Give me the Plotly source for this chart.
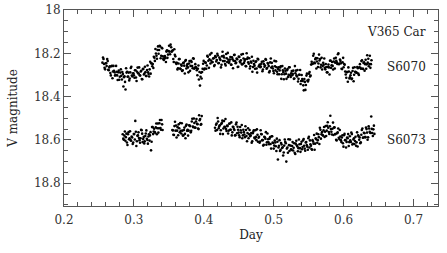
import plotly.graph_objects as go

# V365 Car light curves in two fields
day_s6070 = [
    0.2550, 0.2565, 0.2580, 0.2595, 0.2610, 0.2625, 0.2640, 0.2655, 0.2670, 0.2685,
    0.2700, 0.2715, 0.2730, 0.2745, 0.2760, 0.2775, 0.2790, 0.2805, 0.2820, 0.2835,
    0.2850, 0.2865, 0.2880, 0.2895, 0.2910, 0.2925, 0.2940, 0.2955, 0.2970, 0.2985,
    0.3000, 0.3015, 0.3030, 0.3045, 0.3060, 0.3075, 0.3090, 0.3105, 0.3120, 0.3135,
    0.3150, 0.3165, 0.3180, 0.3195, 0.3210, 0.3225, 0.3240, 0.3255, 0.3270, 0.3285,
    0.3300, 0.3315, 0.3330, 0.3345, 0.3360, 0.3375, 0.3390, 0.3405, 0.3420, 0.3435,
    0.3450, 0.3465, 0.3480, 0.3495, 0.3510, 0.3525, 0.3540, 0.3555, 0.3570, 0.3585,
    0.3600, 0.3615, 0.3630, 0.3645, 0.3660, 0.3675, 0.3690, 0.3705, 0.3720, 0.3735,
    0.3750, 0.3765, 0.3780, 0.3795, 0.3810, 0.3825, 0.3840, 0.3855, 0.3870, 0.3885,
    0.3900, 0.3915, 0.3930, 0.3945, 0.3960, 0.3975, 0.3990, 0.4005, 0.4020, 0.4035,
    0.4050, 0.4065, 0.4080, 0.4095, 0.4110, 0.4125, 0.4140, 0.4155, 0.4170, 0.4185,
    0.4200, 0.4215, 0.4230, 0.4245, 0.4260, 0.4275, 0.4290, 0.4305, 0.4320, 0.4335,
    0.4350, 0.4365, 0.4380, 0.4395, 0.4410, 0.4425, 0.4440, 0.4455, 0.4470, 0.4485,
    0.4500, 0.4515, 0.4530, 0.4545, 0.4560, 0.4575, 0.4590, 0.4605, 0.4620, 0.4635,
    0.4650, 0.4665, 0.4680, 0.4695, 0.4710, 0.4725, 0.4740, 0.4755, 0.4770, 0.4785,
    0.4800, 0.4815, 0.4830, 0.4845, 0.4860, 0.4875, 0.4890, 0.4905, 0.4920, 0.4935,
    0.4950, 0.4965, 0.4980, 0.4995, 0.5010, 0.5025, 0.5040, 0.5055, 0.5070, 0.5085,
    0.5100, 0.5115, 0.5130, 0.5145, 0.5160, 0.5175, 0.5190, 0.5205, 0.5220, 0.5235,
    0.5250, 0.5265, 0.5280, 0.5295, 0.5310, 0.5325, 0.5340, 0.5355, 0.5370, 0.5385,
    0.5400, 0.5415, 0.5430, 0.5445, 0.5460, 0.5475, 0.5490, 0.5505, 0.5520, 0.5535,
    0.5550, 0.5565, 0.5580, 0.5595, 0.5610, 0.5625, 0.5640, 0.5655, 0.5670, 0.5685,
    0.5700, 0.5715, 0.5730, 0.5745, 0.5760, 0.5775, 0.5790, 0.5805, 0.5820, 0.5835,
    0.5850, 0.5865, 0.5880, 0.5895, 0.5910, 0.5925, 0.5940, 0.5955, 0.5970, 0.5985,
    0.6000, 0.6015, 0.6030, 0.6045, 0.6060, 0.6075, 0.6090, 0.6105, 0.6120, 0.6135,
    0.6150, 0.6165, 0.6180, 0.6195, 0.6210, 0.6225, 0.6240, 0.6255, 0.6270, 0.6285,
    0.6300, 0.6315, 0.6330, 0.6345, 0.6360, 0.6375, 0.6390,
    0.2558, 0.2573, 0.2588, 0.2603, 0.2618, 0.2633, 0.2648, 0.2663, 0.2678, 0.2693,
    0.2708, 0.2723, 0.2738, 0.2753, 0.2768, 0.2783, 0.2798, 0.2813, 0.2828, 0.2843,
    0.2858, 0.2873, 0.2888, 0.2903, 0.2918, 0.2933, 0.2948, 0.2963, 0.2978, 0.2993,
    0.3008, 0.3023, 0.3038, 0.3053, 0.3068, 0.3083, 0.3098, 0.3113, 0.3128, 0.3143,
    0.3158, 0.3173, 0.3188, 0.3203, 0.3218, 0.3233, 0.3248, 0.3263, 0.3278, 0.3293,
    0.3308, 0.3323, 0.3338, 0.3353, 0.3368, 0.3383, 0.3398, 0.3413, 0.3428, 0.3443,
    0.3458, 0.3473, 0.3488, 0.3503, 0.3518, 0.3533, 0.3548, 0.3563, 0.3578, 0.3593,
    0.3608, 0.3623, 0.3638, 0.3653, 0.3668, 0.3683, 0.3698, 0.3713, 0.3728, 0.3743,
    0.3758, 0.3773, 0.3788, 0.3803, 0.3818, 0.3833, 0.3848, 0.3863, 0.3878, 0.3893,
    0.3908, 0.3923, 0.3938, 0.3953, 0.3968, 0.3983, 0.3998, 0.4013, 0.4028, 0.4043,
    0.4058, 0.4073, 0.4088, 0.4103, 0.4118, 0.4133, 0.4148, 0.4163, 0.4178, 0.4193,
    0.4208, 0.4223, 0.4238, 0.4253, 0.4268, 0.4283, 0.4298, 0.4313, 0.4328, 0.4343,
    0.4358, 0.4373, 0.4388, 0.4403, 0.4418, 0.4433, 0.4448, 0.4463, 0.4478, 0.4493,
    0.4508, 0.4523, 0.4538, 0.4553, 0.4568, 0.4583, 0.4598, 0.4613, 0.4628, 0.4643,
    0.4658, 0.4673, 0.4688, 0.4703, 0.4718, 0.4733, 0.4748, 0.4763, 0.4778, 0.4793,
    0.4808, 0.4823, 0.4838, 0.4853, 0.4868, 0.4883, 0.4898, 0.4913, 0.4928, 0.4943,
    0.4958, 0.4973, 0.4988, 0.5003, 0.5018, 0.5033, 0.5048, 0.5063, 0.5078, 0.5093,
    0.5108, 0.5123, 0.5138, 0.5153, 0.5168, 0.5183, 0.5198, 0.5213, 0.5228, 0.5243,
    0.5258, 0.5273, 0.5288, 0.5303, 0.5318, 0.5333, 0.5348, 0.5363, 0.5378, 0.5393,
    0.5408, 0.5423, 0.5438, 0.5453, 0.5468, 0.5483, 0.5498, 0.5513, 0.5528, 0.5543,
    0.5558, 0.5573, 0.5588, 0.5603, 0.5618, 0.5633, 0.5648, 0.5663, 0.5678, 0.5693,
    0.5708, 0.5723, 0.5738, 0.5753, 0.5768, 0.5783, 0.5798, 0.5813, 0.5828, 0.5843,
    0.5858, 0.5873, 0.5888, 0.5903, 0.5918, 0.5933, 0.5948, 0.5963, 0.5978, 0.5993,
    0.6008, 0.6023, 0.6038, 0.6053, 0.6068, 0.6083, 0.6098, 0.6113, 0.6128, 0.6143,
    0.6158, 0.6173, 0.6188, 0.6203, 0.6218, 0.6233, 0.6248, 0.6263, 0.6278, 0.6293,
    0.6308, 0.6323, 0.6338, 0.6353, 0.6368, 0.6383, 0.6398,
]
mag_s6070 = [
    18.243, 18.226, 18.267, 18.246, 18.259, 18.236, 18.278, 18.260, 18.302, 18.258,
    18.284, 18.281, 18.303, 18.258, 18.302, 18.288, 18.322, 18.289, 18.304, 18.286,
    18.353, 18.306, 18.367, 18.289, 18.308, 18.289, 18.316, 18.268, 18.303, 18.293,
    18.301, 18.278, 18.312, 18.285, 18.292, 18.265, 18.303, 18.281, 18.320, 18.272,
    18.294, 18.287, 18.305, 18.256, 18.296, 18.274, 18.294, 18.247, 18.249, 18.216,
    18.235, 18.201, 18.225, 18.168, 18.185, 18.168, 18.211, 18.177, 18.226, 18.222,
    18.223, 18.192, 18.221, 18.190, 18.192, 18.160, 18.193, 18.186, 18.240, 18.207,
    18.244, 18.244, 18.269, 18.227, 18.270, 18.252, 18.282, 18.245, 18.257, 18.235,
    18.270, 18.250, 18.288, 18.236, 18.258, 18.240, 18.269, 18.225, 18.267, 18.263,
    18.278, 18.271, 18.321, 18.349, 18.290, 18.286, 18.248, 18.275, 18.242, 18.271,
    18.212, 18.234, 18.228, 18.247, 18.199, 18.240, 18.223, 18.254, 18.218, 18.231,
    18.210, 18.245, 18.226, 18.265, 18.214, 18.236, 18.219, 18.249, 18.203, 18.240,
    18.230, 18.239, 18.217, 18.253, 18.227, 18.234, 18.207, 18.246, 18.224, 18.263,
    18.215, 18.238, 18.232, 18.251, 18.203, 18.245, 18.228, 18.260, 18.226, 18.241,
    18.223, 18.260, 18.243, 18.285, 18.234, 18.257, 18.240, 18.270, 18.225, 18.261,
    18.252, 18.261, 18.239, 18.275, 18.249, 18.256, 18.230, 18.268, 18.248, 18.288,
    18.242, 18.266, 18.261, 18.282, 18.235, 18.279, 18.264, 18.297, 18.264, 18.279,
    18.260, 18.297, 18.279, 18.320, 18.270, 18.294, 18.278, 18.309, 18.264, 18.301,
    18.292, 18.301, 18.280, 18.316, 18.292, 18.302, 18.277, 18.318, 18.299, 18.342,
    18.300, 18.328, 18.371, 18.332, 18.346, 18.294, 18.330, 18.294, 18.307, 18.252,
    18.249, 18.211, 18.243, 18.227, 18.270, 18.223, 18.247, 18.233, 18.265, 18.221,
    18.259, 18.253, 18.267, 18.249, 18.288, 18.263, 18.265, 18.234, 18.267, 18.240,
    18.275, 18.224, 18.243, 18.234, 18.249, 18.200, 18.247, 18.235, 18.271, 18.241,
    18.264, 18.253, 18.298, 18.287, 18.331, 18.284, 18.311, 18.290, 18.316, 18.267,
    18.299, 18.285, 18.289, 18.263, 18.294, 18.264, 18.267, 18.236, 18.271, 18.245,
    18.280, 18.230, 18.251, 18.243, 18.260, 18.211, 18.250,
    18.219, 18.249, 18.274, 18.246, 18.226, 18.276, 18.265, 18.291, 18.260, 18.315,
    18.258, 18.288, 18.299, 18.285, 18.323, 18.280, 18.308, 18.274, 18.321, 18.296,
    18.310, 18.332, 18.269, 18.285, 18.307, 18.325, 18.288, 18.262, 18.307, 18.292,
    18.313, 18.278, 18.328, 18.266, 18.293, 18.301, 18.284, 18.319, 18.273, 18.298,
    18.262, 18.305, 18.277, 18.288, 18.307, 18.239, 18.246, 18.260, 18.268, 18.220,
    18.180, 18.211, 18.185, 18.202, 18.165, 18.223, 18.174, 18.214, 18.231, 18.213,
    18.240, 18.186, 18.206, 18.165, 18.204, 18.172, 18.189, 18.226, 18.181, 18.214,
    18.249, 18.275, 18.247, 18.226, 18.273, 18.257, 18.278, 18.243, 18.293, 18.231,
    18.258, 18.265, 18.247, 18.281, 18.235, 18.259, 18.223, 18.271, 18.250, 18.268,
    18.301, 18.256, 18.286, 18.308, 18.316, 18.271, 18.235, 18.270, 18.244, 18.256,
    18.216, 18.267, 18.206, 18.233, 18.241, 18.224, 18.259, 18.213, 18.238, 18.202,
    18.246, 18.219, 18.231, 18.253, 18.193, 18.211, 18.236, 18.256, 18.223, 18.198,
    18.244, 18.229, 18.252, 18.218, 18.269, 18.208, 18.236, 18.244, 18.227, 18.262,
    18.217, 18.242, 18.206, 18.250, 18.224, 18.236, 18.259, 18.200, 18.220, 18.248,
    18.270, 18.238, 18.216, 18.263, 18.249, 18.271, 18.237, 18.289, 18.228, 18.256,
    18.264, 18.248, 18.283, 18.237, 18.262, 18.227, 18.271, 18.245, 18.259, 18.282,
    18.224, 18.244, 18.270, 18.292, 18.260, 18.237, 18.285, 18.273, 18.297, 18.265,
    18.318, 18.259, 18.287, 18.297, 18.281, 18.318, 18.273, 18.299, 18.264, 18.309,
    18.282, 18.295, 18.318, 18.259, 18.280, 18.307, 18.330, 18.299, 18.277, 18.328,
    18.319, 18.348, 18.319, 18.369, 18.303, 18.326, 18.322, 18.286, 18.303, 18.239,
    18.248, 18.202, 18.246, 18.222, 18.238, 18.263, 18.206, 18.226, 18.253, 18.275,
    18.244, 18.224, 18.274, 18.263, 18.288, 18.252, 18.298, 18.233, 18.255, 18.258,
    18.238, 18.270, 18.221, 18.242, 18.204, 18.250, 18.229, 18.246, 18.273, 18.221,
    18.249, 18.284, 18.313, 18.286, 18.265, 18.316, 18.301, 18.319, 18.282, 18.329,
    18.264, 18.287, 18.290, 18.269, 18.300, 18.250, 18.271, 18.232, 18.272, 18.241,
    18.250, 18.271, 18.209, 18.225, 18.249, 18.267, 18.232,
]

day_s6073 = [
    0.2840, 0.2855, 0.2870, 0.2885, 0.2900, 0.2915, 0.2930, 0.2945, 0.2960, 0.2975,
    0.2990, 0.3005, 0.3020, 0.3035, 0.3050, 0.3065, 0.3080, 0.3095, 0.3110, 0.3125,
    0.3140, 0.3155, 0.3170, 0.3185, 0.3200, 0.3215, 0.3230, 0.3245, 0.3260, 0.3275,
    0.3290, 0.3305, 0.3320, 0.3335, 0.3350, 0.3365, 0.3380, 0.3395, 0.3410,
    0.3550, 0.3565, 0.3580, 0.3595, 0.3610, 0.3625, 0.3640, 0.3655, 0.3670, 0.3685,
    0.3700, 0.3715, 0.3730, 0.3745, 0.3760, 0.3775, 0.3790, 0.3805, 0.3820, 0.3835,
    0.3850, 0.3865, 0.3880, 0.3895, 0.3910, 0.3925, 0.3940, 0.3955, 0.3970,
    0.4160, 0.4175, 0.4190, 0.4205, 0.4220, 0.4235, 0.4250, 0.4265, 0.4280, 0.4295,
    0.4310, 0.4325, 0.4340, 0.4355, 0.4370, 0.4385, 0.4400, 0.4415, 0.4430, 0.4445,
    0.4460, 0.4475, 0.4490, 0.4505, 0.4520, 0.4535, 0.4550, 0.4565, 0.4580, 0.4595,
    0.4610, 0.4625, 0.4640, 0.4655, 0.4670, 0.4685, 0.4700, 0.4715, 0.4730, 0.4745,
    0.4760, 0.4775, 0.4790, 0.4805, 0.4820, 0.4835, 0.4850, 0.4865, 0.4880, 0.4895,
    0.4910, 0.4925, 0.4940, 0.4955, 0.4970, 0.4985, 0.5000, 0.5015, 0.5030, 0.5045,
    0.5060, 0.5075, 0.5090, 0.5105, 0.5120, 0.5135, 0.5150, 0.5165, 0.5180, 0.5195,
    0.5210, 0.5225, 0.5240, 0.5255, 0.5270, 0.5285, 0.5300, 0.5315, 0.5330, 0.5345,
    0.5360, 0.5375, 0.5390, 0.5405, 0.5420, 0.5435, 0.5450, 0.5465, 0.5480, 0.5495,
    0.5510, 0.5525, 0.5540, 0.5555, 0.5570, 0.5585, 0.5600, 0.5615, 0.5630, 0.5645,
    0.5660, 0.5675, 0.5690, 0.5705, 0.5720, 0.5735, 0.5750, 0.5765, 0.5780, 0.5795,
    0.5810, 0.5825, 0.5840, 0.5855, 0.5870, 0.5885, 0.5900, 0.5915, 0.5930, 0.5945,
    0.5960, 0.5975, 0.5990, 0.6005, 0.6020, 0.6035, 0.6050, 0.6065, 0.6080, 0.6095,
    0.6110, 0.6125, 0.6140, 0.6155, 0.6170, 0.6185, 0.6200, 0.6215, 0.6230, 0.6245,
    0.6260, 0.6275, 0.6290, 0.6305, 0.6320, 0.6335, 0.6350, 0.6365, 0.6380, 0.6395,
    0.6410, 0.6425, 0.6440,
    0.2848, 0.2863, 0.2878, 0.2893, 0.2908, 0.2923, 0.2938, 0.2953, 0.2968, 0.2983,
    0.2998, 0.3013, 0.3028, 0.3043, 0.3058, 0.3073, 0.3088, 0.3103, 0.3118, 0.3133,
    0.3148, 0.3163, 0.3178, 0.3193, 0.3208, 0.3223, 0.3238, 0.3253, 0.3268, 0.3283,
    0.3298, 0.3313, 0.3328, 0.3343, 0.3358, 0.3373, 0.3388, 0.3403,
    0.3558, 0.3573, 0.3588, 0.3603, 0.3618, 0.3633, 0.3648, 0.3663, 0.3678, 0.3693,
    0.3708, 0.3723, 0.3738, 0.3753, 0.3768, 0.3783, 0.3798, 0.3813, 0.3828, 0.3843,
    0.3858, 0.3873, 0.3888, 0.3903, 0.3918, 0.3933, 0.3948, 0.3963,
    0.4168, 0.4183, 0.4198, 0.4213, 0.4228, 0.4243, 0.4258, 0.4273, 0.4288, 0.4303,
    0.4318, 0.4333, 0.4348, 0.4363, 0.4378, 0.4393, 0.4408, 0.4423, 0.4438, 0.4453,
    0.4468, 0.4483, 0.4498, 0.4513, 0.4528, 0.4543, 0.4558, 0.4573, 0.4588, 0.4603,
    0.4618, 0.4633, 0.4648, 0.4663, 0.4678, 0.4693, 0.4708, 0.4723, 0.4738, 0.4753,
    0.4768, 0.4783, 0.4798, 0.4813, 0.4828, 0.4843, 0.4858, 0.4873, 0.4888, 0.4903,
    0.4918, 0.4933, 0.4948, 0.4963, 0.4978, 0.4993, 0.5008, 0.5023, 0.5038, 0.5053,
    0.5068, 0.5083, 0.5098, 0.5113, 0.5128, 0.5143, 0.5158, 0.5173, 0.5188, 0.5203,
    0.5218, 0.5233, 0.5248, 0.5263, 0.5278, 0.5293, 0.5308, 0.5323, 0.5338, 0.5353,
    0.5368, 0.5383, 0.5398, 0.5413, 0.5428, 0.5443, 0.5458, 0.5473, 0.5488, 0.5503,
    0.5518, 0.5533, 0.5548, 0.5563, 0.5578, 0.5593, 0.5608, 0.5623, 0.5638, 0.5653,
    0.5668, 0.5683, 0.5698, 0.5713, 0.5728, 0.5743, 0.5758, 0.5773, 0.5788, 0.5803,
    0.5818, 0.5833, 0.5848, 0.5863, 0.5878, 0.5893, 0.5908, 0.5923, 0.5938, 0.5953,
    0.5968, 0.5983, 0.5998, 0.6013, 0.6028, 0.6043, 0.6058, 0.6073, 0.6088, 0.6103,
    0.6118, 0.6133, 0.6148, 0.6163, 0.6178, 0.6193, 0.6208, 0.6223, 0.6238, 0.6253,
    0.6268, 0.6283, 0.6298, 0.6313, 0.6328, 0.6343, 0.6358, 0.6373, 0.6388, 0.6403,
    0.6418, 0.6433,
]
mag_s6073 = [
    18.574, 18.599, 18.561, 18.587, 18.612, 18.574, 18.597, 18.560, 18.604, 18.589,
    18.612, 18.573, 18.512, 18.628, 18.581, 18.565, 18.601, 18.592, 18.555, 18.610,
    18.586, 18.606, 18.570, 18.595, 18.617, 18.574, 18.579, 18.648, 18.540, 18.573,
    18.548, 18.567, 18.524, 18.546, 18.566, 18.523, 18.545, 18.508, 18.554,
    18.554, 18.576, 18.536, 18.557, 18.589, 18.541, 18.528, 18.565, 18.558, 18.523,
    18.580, 18.554, 18.572, 18.535, 18.558, 18.580, 18.532, 18.536, 18.558, 18.502,
    18.541, 18.522, 18.544, 18.503, 18.527, 18.550, 18.509, 18.530, 18.490,
    18.544, 18.530, 18.554, 18.515, 18.538, 18.572, 18.526, 18.511, 18.547, 18.539,
    18.503, 18.559, 18.536, 18.557, 18.524, 18.553, 18.579, 18.539, 18.550, 18.579,
    18.528, 18.569, 18.553, 18.578, 18.540, 18.566, 18.592, 18.553, 18.575, 18.537,
    18.582, 18.568, 18.592, 18.554, 18.578, 18.613, 18.569, 18.555, 18.593, 18.586,
    18.551, 18.608, 18.585, 18.607, 18.573, 18.601, 18.626, 18.585, 18.594, 18.622,
    18.570, 18.611, 18.594, 18.619, 18.583, 18.612, 18.640, 18.603, 18.629, 18.594,
    18.690, 18.627, 18.651, 18.614, 18.637, 18.672, 18.626, 18.609, 18.700, 18.635,
    18.597, 18.651, 18.626, 18.646, 18.610, 18.636, 18.659, 18.617, 18.625, 18.652,
    18.598, 18.638, 18.619, 18.643, 18.602, 18.627, 18.650, 18.610, 18.631, 18.592,
    18.635, 18.620, 18.642, 18.601, 18.617, 18.645, 18.592, 18.571, 18.601, 18.587,
    18.544, 18.594, 18.564, 18.580, 18.540, 18.562, 18.582, 18.535, 18.544, 18.572,
    18.488, 18.562, 18.548, 18.577, 18.542, 18.573, 18.602, 18.565, 18.590, 18.554,
    18.601, 18.589, 18.615, 18.578, 18.601, 18.635, 18.589, 18.573, 18.610, 18.602,
    18.566, 18.621, 18.598, 18.619, 18.585, 18.611, 18.630, 18.584, 18.589, 18.611,
    18.554, 18.590, 18.567, 18.587, 18.543, 18.566, 18.588, 18.547, 18.567, 18.492,
    18.568, 18.551, 18.572,
    18.594, 18.580, 18.604, 18.571, 18.623, 18.564, 18.592, 18.601, 18.584, 18.619,
    18.573, 18.598, 18.562, 18.606, 18.579, 18.591, 18.613, 18.553, 18.571, 18.596,
    18.616, 18.582, 18.556, 18.600, 18.584, 18.603, 18.564, 18.608, 18.541, 18.561,
    18.563, 18.542, 18.574, 18.524, 18.546, 18.508, 18.553, 18.528,
    18.556, 18.577, 18.516, 18.533, 18.557, 18.578, 18.546, 18.522, 18.570, 18.557,
    18.579, 18.543, 18.592, 18.529, 18.553, 18.557, 18.535, 18.565, 18.515, 18.538,
    18.501, 18.543, 18.515, 18.526, 18.547, 18.486, 18.503, 18.527,
    18.557, 18.524, 18.499, 18.546, 18.532, 18.555, 18.522, 18.573, 18.513, 18.541,
    18.550, 18.534, 18.570, 18.525, 18.553, 18.519, 18.565, 18.540, 18.554, 18.578,
    18.520, 18.539, 18.566, 18.587, 18.555, 18.531, 18.579, 18.564, 18.587, 18.554,
    18.606, 18.546, 18.574, 18.583, 18.568, 18.606, 18.562, 18.589, 18.555, 18.601,
    18.576, 18.590, 18.613, 18.555, 18.574, 18.601, 18.622, 18.588, 18.564, 18.611,
    18.597, 18.620, 18.587, 18.640, 18.583, 18.614, 18.626, 18.612, 18.651, 18.608,
    18.635, 18.601, 18.646, 18.621, 18.634, 18.658, 18.598, 18.615, 18.640, 18.659,
    18.624, 18.598, 18.643, 18.628, 18.649, 18.615, 18.665, 18.604, 18.630, 18.638,
    18.620, 18.655, 18.608, 18.633, 18.596, 18.640, 18.612, 18.624, 18.645, 18.585,
    18.602, 18.627, 18.645, 18.607, 18.577, 18.617, 18.597, 18.613, 18.574, 18.619,
    18.553, 18.574, 18.577, 18.556, 18.586, 18.536, 18.557, 18.518, 18.563, 18.537,
    18.550, 18.575, 18.520, 18.543, 18.573, 18.599, 18.569, 18.547, 18.596, 18.584,
    18.609, 18.578, 18.631, 18.572, 18.600, 18.609, 18.592, 18.628, 18.583, 18.609,
    18.573, 18.618, 18.592, 18.605, 18.627, 18.565, 18.578, 18.599, 18.615, 18.576,
    18.547, 18.589, 18.569, 18.587, 18.550, 18.599, 18.537, 18.562, 18.568, 18.549,
    18.582, 18.534,
]

FONT = "DejaVu Serif"
AXIS_COLOR = "#555555"
TEXT_COLOR = "#222222"

fig = go.Figure()
for days, mags in [(day_s6070, mag_s6070), (day_s6073, mag_s6073)]:
    fig.add_trace(go.Scatter(
        x=days, y=mags, mode="markers",
        marker=dict(color="black", size=2.6, line=dict(width=0)),
        showlegend=False, hoverinfo="skip",
    ))

labels = [
    ("V365 Car", 0.721, 18.10),
    ("S6070", 0.721, 18.265),
    ("S6073", 0.721, 18.60),
]
for text, x, y in labels:
    fig.add_annotation(
        text=text, x=x, y=y, xanchor="right", yanchor="middle",
        showarrow=False, font=dict(family=FONT, size=12, color=TEXT_COLOR),
    )

axis_common = dict(
    showline=True, linecolor=AXIS_COLOR, linewidth=1, mirror="allticks",
    ticks="inside", ticklen=7, tickcolor=AXIS_COLOR, tickwidth=1,
    showgrid=False, zeroline=False, automargin=False,
    tickfont=dict(family=FONT, size=12, color="#333333"),
)

fig.update_layout(
    width=447, height=253,
    margin=dict(l=64, r=9, t=10, b=47),
    plot_bgcolor="white", paper_bgcolor="white",
    xaxis=dict(
        range=[0.2, 0.735], dtick=0.1, tick0=0.2, ticklabelstandoff=3,
        minor=dict(dtick=0.02, ticks="inside", ticklen=4, tickcolor=AXIS_COLOR, showgrid=False),
        title=dict(text="Day", font=dict(family=FONT, size=12, color=TEXT_COLOR), standoff=4),
        **axis_common,
    ),
    yaxis=dict(
        range=[18.905, 18.0], dtick=0.2, tick0=18.0,
        minor=dict(dtick=0.05, ticks="inside", ticklen=4, tickcolor=AXIS_COLOR, showgrid=False),
        title=dict(text="V magnitude", font=dict(family=FONT, size=12, color=TEXT_COLOR), standoff=13),
        **axis_common,
    ),
)

# drop the default page margin so the figure sits at the window's corner
fig.write_html(
    "out.html",
    config={"displayModeBar": False},
    post_script="document.body.style.margin = '0';",
)
